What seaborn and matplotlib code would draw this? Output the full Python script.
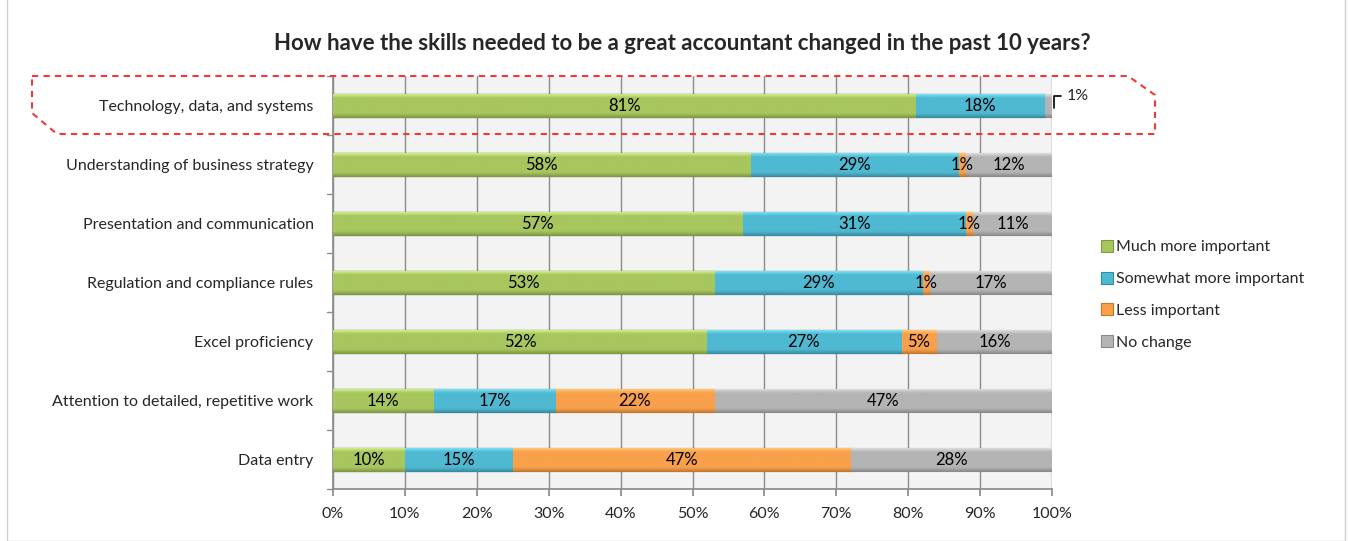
import numpy as np
import pandas as pd
import matplotlib
matplotlib.use("Agg")
import matplotlib.pyplot as plt
import matplotlib.colors as mcolors
from matplotlib.patches import Polygon, Rectangle
from matplotlib.lines import Line2D
import seaborn as sns

# Survey results (% of respondents)
skills = [
    "Technology, data, and systems",
    "Understanding of business strategy",
    "Presentation and communication",
    "Regulation and compliance rules",
    "Excel proficiency",
    "Attention to detailed, repetitive work",
    "Data entry",
]
much_more = [81, 58, 57, 53, 52, 14, 10]
somewhat_more = [18, 29, 31, 29, 27, 17, 15]
less = [0, 1, 1, 1, 5, 22, 47]
no_change = [1, 12, 11, 17, 16, 47, 28]

series_names = ["Much more important", "Somewhat more important",
                "Less important", "No change"]
series_vals = [much_more, somewhat_more, less, no_change]
colors = ["#a8c65e", "#4fb9d2", "#f9a04b", "#b4b4b4"]
edge_colors = ["#7f9a3f", "#2f8ea6", "#c97628", "#8a8a8a"]

sns.set_theme(style="white")
plt.rcParams["font.family"] = ["Lato", "DejaVu Sans"]
FS = 11.5

W, H = 1349, 541
fig = plt.figure(figsize=(W / 100, H / 100), dpi=100)
ax = fig.add_axes([333 / W, 1 - 489 / H, (1052 - 333) / W, (489 - 76) / H])
ax.set_facecolor("#f3f3f3")

# stacked bars: draw cumulative totals from the outermost layer inwards
df = pd.DataFrame({"skill": skills})
cums = np.cumsum(np.array(series_vals, dtype=float), axis=0)
for i in range(len(series_names) - 1, -1, -1):
    df["cum"] = cums[i]
    sns.barplot(data=df, x="cum", y="skill", order=skills, orient="h",
                color=colors[i], saturation=1, width=0.4, ax=ax,
                edgecolor=edge_colors[i], linewidth=0.8, zorder=3)

# bevel-like shading on each bar segment
t = np.linspace(1, 0, 64).reshape(-1, 1)
for p in list(ax.patches):
    x0, y0 = p.get_x(), p.get_y()
    w, h = p.get_width(), p.get_height()
    if w <= 0:
        continue
    base = np.array(mcolors.to_rgb(p.get_facecolor()))
    light = np.clip(base + 0.2, 0, 1)
    dark = base * 0.8
    up = np.clip((t - 0.8) / 0.2, 0, 1)
    dn = np.clip(1 - t / 0.15, 0, 1)
    grad = base * (1 - up - dn) + light * up + dark * dn
    grad = grad.reshape(64, 1, 3)
    im = ax.imshow(grad, extent=(x0, x0 + w, y0 + h, y0), aspect="auto",
                   zorder=3.5, interpolation="bilinear")
    im.set_clip_path(p)

ax.set_xlim(0, 100)
ax.set_ylim(len(skills) - 0.5, -0.5)
ax.set_xticks(np.arange(0, 101, 10))
ax.set_xticklabels([f"{v}%" for v in range(0, 101, 10)], fontsize=FS)
ax.set_yticks(range(len(skills)))
ax.set_yticklabels(skills, fontsize=FS)
ax.set_xlabel("")
ax.set_ylabel("")
ax.grid(axis="x", color="#8c8c8c", linewidth=1, zorder=1)
ax.set_axisbelow(True)
for s in ["top", "right"]:
    ax.spines[s].set_visible(False)
ax.spines["left"].set_color("#8c8c8c")
ax.spines["bottom"].set_color("#8c8c8c")
ax.tick_params(axis="y", length=0, pad=14)
ax.tick_params(axis="x", length=5, color="#8c8c8c", direction="out", bottom=True, pad=8)
# category separator ticks on the value axis
for b in np.arange(-0.5, len(skills), 1.0):
    ax.plot([-0.8, 0], [b, b], color="#8c8c8c", lw=1, clip_on=False, zorder=2)

# value labels
for r in range(len(skills)):
    left = 0.0
    for i, vals in enumerate(series_vals):
        v = vals[r]
        if v > 0:
            if r == 0 and i == 3:
                ax.annotate(f"{v}%", xy=(left + v + 0.3, r + 0.04),
                            xytext=(left + v + 2.1, r - 0.16),
                            fontsize=FS, va="center", ha="left",
                            arrowprops=dict(arrowstyle="-", color="black", lw=1.2,
                                            connectionstyle="angle,angleA=0,angleB=90,rad=0",
                                            shrinkA=2, shrinkB=0),
                            annotation_clip=False, zorder=6)
            else:
                ax.text(left + v / 2, r, f"{v}%", ha="center", va="center",
                        fontsize=12, color="black", zorder=6)
        left += v

fig.text(0.506, 1 - 44 / H,
         "How have the skills needed to be a great accountant changed in the past 10 years?",
         ha="center", va="center", fontsize=16, fontweight="bold")

# legend
handles = [Line2D([0], [0], marker="s", linestyle="none", markersize=8,
                  markerfacecolor=c, markeredgecolor=e, markeredgewidth=0.8)
           for c, e in zip(colors, edge_colors)]
fig.legend(handles, series_names, loc="center left",
           bbox_to_anchor=(1094 / W, 1 - 295 / H), frameon=False,
           fontsize=FS, labelspacing=1.1, handlelength=0.8,
           handletextpad=0.2, borderaxespad=0)

# highlight callout around the top row
pts = [(32, 76), (1128, 76), (1155, 95), (1155, 134), (57, 134), (32, 113)]
poly = Polygon([(x / W, 1 - y / H) for x, y in pts], closed=True, fill=False,
               edgecolor="#f03a3a", linestyle=(0, (3, 2.5)), linewidth=1.5,
               transform=fig.transFigure, zorder=10)
fig.patches.append(poly)

# chart frame
frame = Rectangle((7 / W, 0), (1345 - 7) / W, 1.2, fill=False, edgecolor="#d0d0d0",
                  linewidth=1, transform=fig.transFigure)
fig.patches.append(frame)

fig.savefig("out.png", dpi=100)
